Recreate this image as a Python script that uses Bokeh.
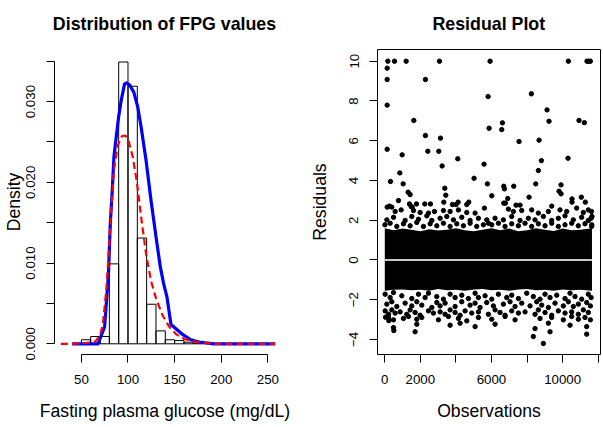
from bokeh.plotting import figure
from bokeh.layouts import row, column
from bokeh.models import Range1d, FixedTicker, Label
from bokeh.embed import file_html
from bokeh.resources import INLINE

FONT = "Liberation Sans"

# ---------------- FPG distribution ----------------
fpg_breaks = [50, 60, 70, 80, 90, 100, 110, 120, 130, 140, 150, 160, 170, 180]
fpg_density = [0.0005, 0.0009, 0.0009, 0.0099, 0.0349, 0.0319, 0.0131,
               0.0049, 0.0016, 0.0005, 0.0004, 0.0002, 0.0001]

# kernel density estimate of FPG
kde_x = [40.0, 67.8, 74.9, 79.0, 81.0, 83.1, 84.9, 86.3, 89.9, 92.7, 96.3, 98.4,
         101.6, 106.2, 110.5, 114.1, 119.4, 124.7, 130.1, 134.7, 138.3, 141.8,
         146.1, 151.4, 158.5, 167.4, 178.1, 192.4, 258.2]
kde_y = [0.0, 0.0, 0.0021, 0.0085, 0.01486, 0.01899, 0.02312, 0.02456, 0.02807,
         0.03013, 0.0322, 0.03232, 0.03207, 0.03117, 0.02931, 0.02683, 0.0227,
         0.01775, 0.01321, 0.00949, 0.00743, 0.00578, 0.00239, 0.00186, 0.00116,
         0.0005, 0.00017, 0.0, 0.0]

# fitted parametric density
fit_x = [28, 40, 55, 65, 70, 73.1, 76.7, 79.5, 82.0, 84.9, 89.1, 93.4, 97.0, 100.5,
         105.2, 109.8, 114.1, 119.4, 124.7, 130.1, 137.2, 144.3, 151.4, 160.3,
         174.6, 192.4, 258]
fit_y = [0, 0, 0.0001, 0.0003, 0.0010, 0.0025, 0.0066, 0.0116, 0.0165, 0.0215,
         0.0246, 0.0257, 0.0258, 0.0252, 0.0231, 0.0198, 0.0157, 0.0111, 0.0078,
         0.0056, 0.0035, 0.0021, 0.0012, 0.0006, 0.0002, 0.0, 0.0]

fpg_ticks = [50, 100, 150, 200, 250]
dens_ticks = [0.0, 0.005, 0.01, 0.015, 0.02, 0.025, 0.03, 0.035]
dens_labels = ["0.000", "", "0.010", "", "0.020", "", "0.030", ""]

# ---------------- residuals ----------------
# large positive residuals
hi_obs = [171, 546, 1201, 3074, 5921, 10323, 11372, 11465, 11559,
          134, 134, 2287, 8243, 5809, 134, 9124, 1632, 10922, 9236,
          11222, 6614, 6577, 5865, 2287, 3130, 8675, 7550, 134, 2419,
          3037, 976, 10304, 4104, 8806, 5584, 3224, 8637, 845, 5022,
          321, 1033, 5771, 8487, 9911, 6689, 7251, 3374, 6726, 9798,
          1313, 9911, 1426, 3430, 6015, 8112, 11053, 6914, 10529, 770,
          10529, 11278, 3318, 4123, 4722, 6689, 6783, 1388, 1782, 2250,
          2568, 3805, 4011, 4610, 7382, 7607, 265, 9386, 134, 1538]
hi_res = [10, 10, 10, 10, 10, 10, 10, 10, 10,
          9.65, 9.08, 9.08, 8.36, 8.22, 7.79, 7.55, 7.02, 7.02, 6.98,
          6.91, 6.90, 6.56, 6.63, 6.26, 6.13, 6.03, 5.96, 5.57, 5.47,
          5.47, 5.29, 5.12, 5.09, 5.00, 4.82, 4.73, 4.50, 4.38, 4.11,
          3.95, 3.83, 3.83, 3.83, 3.78, 3.71, 3.71, 3.61, 3.58, 3.46,
          3.41, 3.33, 3.29, 3.26, 3.23, 3.16, 3.16, 3.09, 3.07, 2.99,
          2.91, 2.91, 2.91, 2.91, 2.91, 2.86, 2.86, 2.82, 2.82, 2.82,
          2.82, 2.79, 2.79, 2.79, 2.76, 2.76, 2.71, 2.71, 2.66, 2.66]

# positive residuals just above the central cloud
up_obs = [395, 583, 920, 1482, 1613, 1987, 2456, 2793, 3298, 3673, 4141, 4609, 5078, 5602,
          114, 489, 1144, 1519, 1894, 2362, 2643, 3111, 3486, 3860, 4329, 4797, 5265, 5733,
          10, 302, 676, 1051, 1425, 1800, 2174, 2549, 2924, 3298, 3673, 4048, 4422, 4797,
          5171, 5546, 5827,
          6950, 7231, 7699, 8261, 8636, 9197, 9853, 10228, 10789, 11164, 11445, 11620,
          6201, 6669, 7137, 7605, 8074, 8448, 8916, 9385, 9759, 10134, 10602, 11070,
          11445, 11600, 11650,
          6013, 6388, 6763, 7137, 7512, 7886, 8261, 8636, 9010, 9385, 9759, 10134, 10509,
          10883, 11258, 11632, 11640]
up_res = [2.66, 2.44, 2.52, 2.69, 2.49, 2.39, 2.36, 2.44, 2.49, 2.44, 2.52, 2.39, 2.36, 2.61,
          2.02, 2.15, 1.99, 2.19, 2.05, 2.22, 1.99, 2.10, 2.19, 2.02, 2.15, 1.99, 2.10, 2.02,
          1.77, 1.85, 1.69, 1.82, 1.72, 1.89, 1.69, 1.82, 1.72, 1.85, 1.69, 1.82, 1.72, 1.85,
          1.69, 1.77, 1.85,
          2.56, 2.44, 2.49, 2.52, 2.36, 2.44, 2.52, 2.44, 2.61, 2.39, 2.52, 2.44,
          2.10, 2.02, 2.19, 1.99, 2.10, 2.02, 2.19, 1.99, 2.10, 2.22, 2.02, 2.15,
          1.99, 2.10, 2.19,
          1.77, 1.85, 1.69, 1.82, 1.72, 1.85, 1.69, 1.82, 1.72, 1.85, 1.69, 1.77, 1.85,
          1.72, 1.82, 1.69, 1.77]

# negative residuals below the central cloud
lo_obs = [21, 302, 489, 957, 1519, 1894, 2268, 2456, 2924, 3298, 3673, 3954, 4329, 4703,
          5078, 5265, 5640, 6014, 6389, 6857, 7138, 7513, 7981, 8355, 8730, 9011, 9292,
          9667, 10135, 10416, 10697, 11071, 11446, 11600,
          114, 395, 676, 1144, 1519, 1800, 2081, 2643, 2924, 3111, 3392, 3954, 4329, 4797,
          5078, 5359, 5733, 6108, 6670, 7044, 7325, 7700, 8168, 8543, 8824, 9198, 9573,
          10041, 10322, 10603, 10884, 11352, 11560,
          21, 208, 395, 583, 863, 1238, 1425, 1706, 1987, 2456, 2736, 3111, 3392, 3673,
          3954, 4235, 4516, 4890, 5265, 5827, 6202, 6482, 6763, 7138, 7513, 7887, 8449,
          8636, 9011, 9386, 9760, 10135, 10509, 10884, 11165, 11446,
          208, 489, 1051, 1332, 1800, 2081, 3017, 3579, 4141, 4609, 5265, 6014, 6763, 7325,
          8730, 9386, 10041, 10509, 10884, 11259, 11560,
          489, 1800, 3673, 4235, 5078, 6202, 8449, 9198, 10416, 11352,
          8355, 8917, 9292, 11352, 1706, 508, 227, 40]
lo_res = [-1.72, -1.89, -1.64, -1.80, -1.94, -1.72, -1.89, -1.67, -1.84, -1.97, -1.72,
          -1.89, -1.77, -1.94, -1.67, -1.89, -1.80, -1.97, -1.72, -1.89, -1.77, -1.94,
          -1.67, -1.84, -1.97, -1.72, -1.89, -1.77, -1.94, -1.67, -1.84, -1.97, -1.72, -1.89,
          -2.22, -2.10, -2.34, -2.17, -2.31, -2.10, -2.27, -2.39, -2.14, -2.31, -2.17, -2.34,
          -2.10, -2.27, -2.17, -2.39, -2.14, -2.31, -2.22, -2.10, -2.34, -2.17, -2.31, -2.10,
          -2.27, -2.39, -2.17, -2.31, -2.10, -2.34, -2.22, -2.14, -2.31,
          -2.56, -2.73, -2.51, -2.67, -2.61, -2.73, -2.51, -2.64, -2.78, -2.56, -2.67, -2.61,
          -2.73, -2.51, -2.64, -2.78, -2.56, -2.67, -2.61, -2.73, -2.51, -2.64, -2.78, -2.56,
          -2.67, -2.61, -2.73, -2.51, -2.64, -2.78, -2.56, -2.67, -2.61, -2.73, -2.51, -2.64,
          -2.89, -3.01, -2.94, -2.84, -2.98, -2.89, -3.01, -2.84, -2.94, -3.06, -2.89, -2.98,
          -2.84, -3.01, -2.94, -2.89, -3.01, -2.84, -2.98, -2.89, -3.01,
          -3.40, -3.23, -3.28, -3.18, -3.35, -3.23, -3.45, -3.18, -3.28, -3.35,
          -3.85, -4.20, -3.61, -3.73, -3.61, -3.55, -3.05, -2.88]

# extent of the saturated central cloud of points
core_obs = [0, 500, 1000, 1500, 2000, 2500, 3000, 3500, 4000, 4500, 5000, 5500,
            6000, 6500, 7000, 7500, 8000, 8500, 9000, 9500, 10000, 10500, 11000, 11650]
core_top = [1.6, 1.5, 1.58, 1.52, 1.45, 1.55, 1.48, 1.52, 1.6, 1.5, 1.45, 1.52,
            1.6, 1.5, 1.58, 1.45, 1.5, 1.6, 1.52, 1.46, 1.58, 1.5, 1.52, 1.6]
core_bot = [-1.55, -1.5, -1.48, -1.52, -1.5, -1.55, -1.46, -1.52, -1.5, -1.55, -1.48, -1.46,
            -1.52, -1.5, -1.55, -1.48, -1.46, -1.52, -1.5, -1.55, -1.48, -1.52, -1.5, -1.55]

zero_obs = [1, 11650]
zero_res = [0, 0]

obs_ticks = [0, 2000, 4000, 6000, 8000, 10000, 12000]
obs_labels = ["0", "2000", "", "6000", "", "10000", ""]
res_ticks = [-4, -2, 0, 2, 4, 6, 8, 10]
res_labels = ["\u22124", "\u22122", "0", "2", "4", "6", "8", "10"]


def style_axis(ax, ticks, labels, bounds, label, label_standoff, vertical=False):
    ax.ticker = FixedTicker(ticks=ticks)
    ax.major_label_overrides = {t: s for t, s in zip(ticks, labels)}
    ax.bounds = bounds
    ax.major_tick_out = 8
    ax.major_tick_in = 0
    ax.minor_tick_line_color = None
    ax.axis_line_color = "black"
    ax.major_tick_line_color = "black"
    ax.major_label_text_color = "black"
    ax.major_label_text_font = FONT
    ax.major_label_text_font_size = "13.3px"
    ax.axis_label = label
    ax.axis_label_text_font = FONT
    ax.axis_label_text_font_size = "17.6px"
    ax.axis_label_text_font_style = "normal"
    ax.axis_label_text_color = "black"
    ax.axis_label_standoff = label_standoff
    if vertical:
        ax.major_label_orientation = "parallel"
        ax.major_label_standoff = 11
    else:
        ax.major_label_standoff = 12


def title_strip(width, text, center_x):
    # a bare strip above each panel that carries the panel heading
    t = figure(width=width, height=49, x_range=Range1d(0, width), y_range=Range1d(0, 49),
               x_axis_type=None, y_axis_type=None, min_border=0,
               output_backend="svg", toolbar_location=None)
    t.outline_line_color = None
    t.grid.visible = False
    t.add_layout(Label(x=center_x, y=26, text=text, text_font=FONT,
                       text_font_size="17.8px", text_font_style="bold",
                       text_color="black", text_align="center",
                       text_baseline="alphabetic"))
    return t


# ---- left panel: histogram with density curves
p1 = figure(width=302, height=378,
            x_range=Range1d(21.17, 258.2), y_range=Range1d(-0.001325, 0.03645),
            min_border_left=53, min_border_right=27, min_border_top=0,
            min_border_bottom=73, output_backend="svg", toolbar_location=None)
p1.outline_line_color = None
p1.grid.visible = False

p1.quad(left=fpg_breaks[:-1], right=fpg_breaks[1:], bottom=0, top=fpg_density,
        fill_color=None, line_color="black", line_width=1)
p1.line(kde_x, kde_y, line_color="#0000ff", line_width=3.2, line_join="round")
p1.line(fit_x, fit_y, line_color="#ff0000", line_width=2.2, line_dash="7 4")

style_axis(p1.xaxis[0], fpg_ticks, [str(t) for t in fpg_ticks], (50, 250),
           "Fasting plasma glucose (mg/dL)", 14)
style_axis(p1.yaxis[0], dens_ticks, dens_labels, (0, 0.035), "Density", 0,
           vertical=True)

# ---- right panel: residuals by observation index
p2 = figure(width=301, height=378,
            x_range=Range1d(-410, 12130), y_range=Range1d(-4.754, 10.589),
            min_border_left=75, min_border_right=3, min_border_top=0,
            min_border_bottom=73, output_backend="svg", toolbar_location=None)
p2.outline_line_color = "black"
p2.outline_line_width = 1
p2.grid.visible = False

p2.varea(x=core_obs, y1=core_bot, y2=core_top, fill_color="black")
for xs, ys in ((hi_obs, hi_res), (up_obs, up_res), (lo_obs, lo_res)):
    p2.scatter(xs, ys, size=4.4, color="black")
p2.line(zero_obs, zero_res, line_color="#c8c8c8", line_width=2)

style_axis(p2.xaxis[0], obs_ticks, obs_labels, (0, 12000), "Observations", 14)
style_axis(p2.yaxis[0], res_ticks, res_labels, (-4, 10), "Residuals", 17,
           vertical=True)

t1 = title_strip(302, "Distribution of FPG values", 164)
t2 = title_strip(301, "Residual Plot", 186.3)

layout = column(row(t1, t2), row(p1, p2))
open("out.html", "w").write(file_html(layout, INLINE))
